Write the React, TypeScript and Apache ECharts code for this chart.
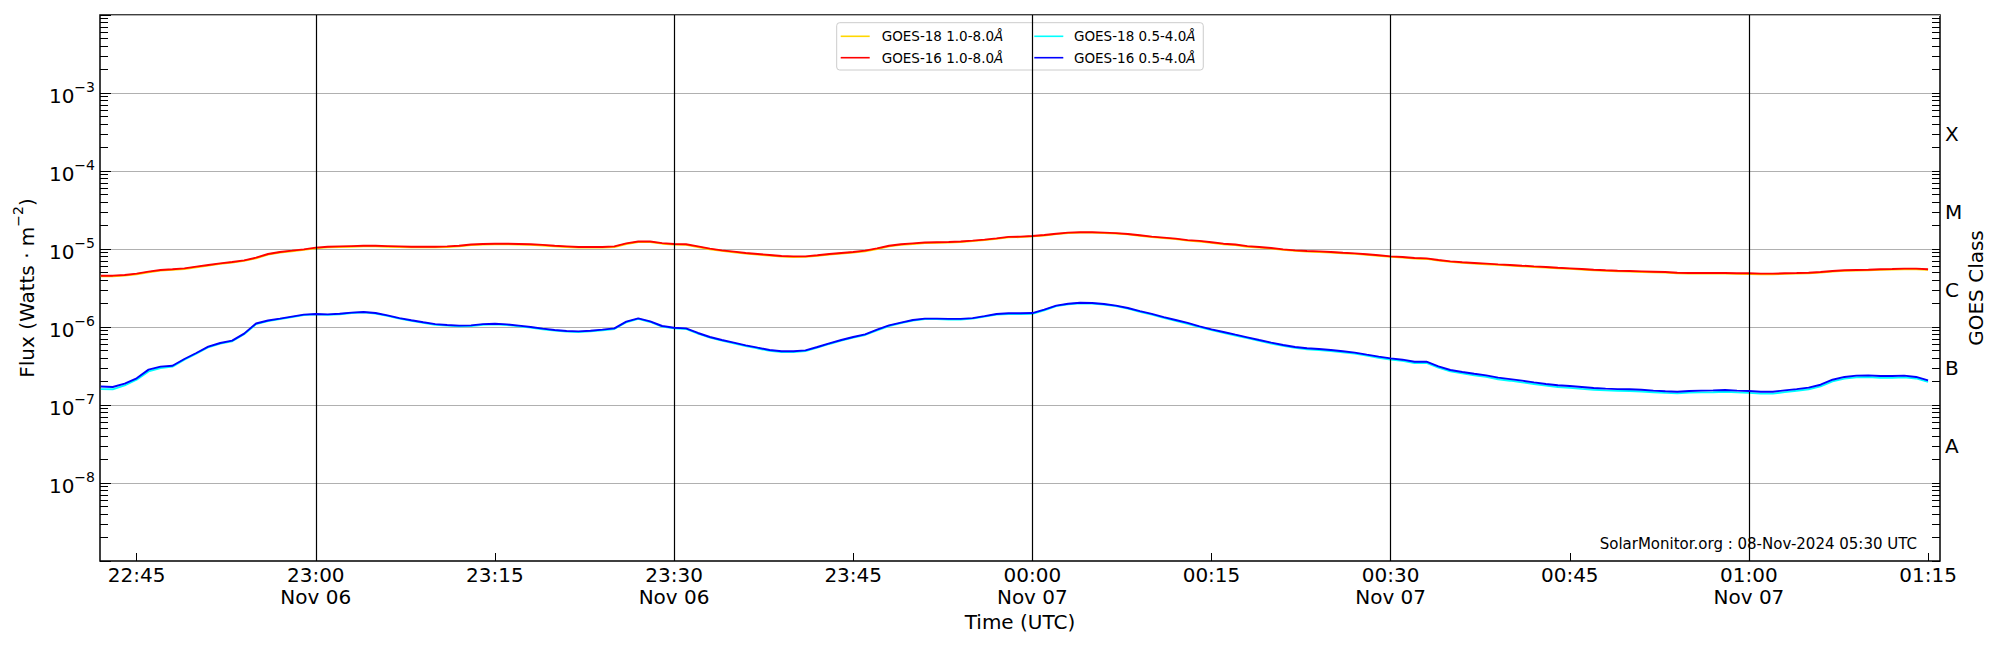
import React, { useEffect, useRef } from "react";
import * as echarts from "echarts";

// 1-minute samples starting at 22:42 UTC on Nov 06 (x = minutes after 22:00 UTC, Nov 06)
const START_MINUTE = 42;

const G18_LONG = [
  4.48e-6, 4.47e-6, 4.56e-6, 4.75e-6, 5.03e-6, 5.29e-6, 5.40e-6, 5.55e-6, 5.84e-6, 6.13e-6,
  6.44e-6, 6.70e-6, 7.04e-6, 7.61e-6, 8.49e-6, 9.01e-6, 9.36e-6, 9.73e-6, 1.02e-5, 1.05e-5,
  1.06e-5, 1.07e-5, 1.08e-5, 1.08e-5, 1.07e-5, 1.06e-5, 1.05e-5, 1.05e-5, 1.05e-5, 1.06e-5,
  1.08e-5, 1.12e-5, 1.14e-5, 1.15e-5, 1.15e-5, 1.14e-5, 1.13e-5, 1.11e-5, 1.08e-5, 1.06e-5,
  1.04e-5, 1.04e-5, 1.04e-5, 1.06e-5, 1.16e-5, 1.23e-5, 1.23e-5, 1.17e-5, 1.14e-5, 1.13e-5,
  1.06e-5, 9.93e-6, 9.45e-6, 9.09e-6, 8.74e-6, 8.48e-6, 8.24e-6, 7.99e-6, 7.91e-6, 7.92e-6,
  8.16e-6, 8.48e-6, 8.74e-6, 9.00e-6, 9.36e-6, 1.00e-5, 1.08e-5, 1.13e-5, 1.16e-5, 1.19e-5,
  1.20e-5, 1.21e-5, 1.23e-5, 1.26e-5, 1.30e-5, 1.35e-5, 1.41e-5, 1.42e-5, 1.45e-5, 1.49e-5,
  1.55e-5, 1.60e-5, 1.62e-5, 1.62e-5, 1.60e-5, 1.58e-5, 1.54e-5, 1.48e-5, 1.42e-5, 1.38e-5,
  1.34e-5, 1.28e-5, 1.25e-5, 1.20e-5, 1.15e-5, 1.12e-5, 1.07e-5, 1.04e-5, 1.01e-5, 9.73e-6,
  9.45e-6, 9.26e-6, 9.17e-6, 9.00e-6, 8.82e-6, 8.65e-6, 8.41e-6, 8.16e-6, 7.92e-6, 7.76e-6,
  7.54e-6, 7.46e-6, 7.11e-6, 6.83e-6, 6.64e-6, 6.51e-6, 6.38e-6, 6.25e-6, 6.14e-6, 6.01e-6,
  5.89e-6, 5.78e-6, 5.66e-6, 5.56e-6, 5.45e-6, 5.34e-6, 5.24e-6, 5.18e-6, 5.13e-6, 5.08e-6,
  5.03e-6, 4.98e-6, 4.89e-6, 4.84e-6, 4.84e-6, 4.83e-6, 4.84e-6, 4.80e-6, 4.79e-6, 4.75e-6,
  4.75e-6, 4.80e-6, 4.84e-6, 4.89e-6, 4.98e-6, 5.13e-6, 5.24e-6, 5.29e-6, 5.34e-6, 5.40e-6,
  5.45e-6, 5.51e-6, 5.50e-6, 5.40e-6,
];

const G16_LONG = [
  4.55e-6, 4.55e-6, 4.64e-6, 4.83e-6, 5.12e-6, 5.38e-6, 5.49e-6, 5.65e-6, 5.94e-6, 6.24e-6,
  6.55e-6, 6.81e-6, 7.16e-6, 7.74e-6, 8.63e-6, 9.16e-6, 9.52e-6, 9.90e-6, 1.04e-5, 1.07e-5,
  1.08e-5, 1.09e-5, 1.10e-5, 1.10e-5, 1.09e-5, 1.08e-5, 1.07e-5, 1.07e-5, 1.07e-5, 1.08e-5,
  1.10e-5, 1.14e-5, 1.16e-5, 1.17e-5, 1.17e-5, 1.16e-5, 1.15e-5, 1.13e-5, 1.10e-5, 1.08e-5,
  1.06e-5, 1.06e-5, 1.06e-5, 1.08e-5, 1.18e-5, 1.25e-5, 1.25e-5, 1.19e-5, 1.16e-5, 1.15e-5,
  1.08e-5, 1.01e-5, 9.61e-6, 9.25e-6, 8.89e-6, 8.63e-6, 8.38e-6, 8.13e-6, 8.05e-6, 8.05e-6,
  8.30e-6, 8.63e-6, 8.89e-6, 9.16e-6, 9.52e-6, 1.02e-5, 1.10e-5, 1.15e-5, 1.18e-5, 1.21e-5,
  1.22e-5, 1.23e-5, 1.25e-5, 1.28e-5, 1.32e-5, 1.37e-5, 1.43e-5, 1.44e-5, 1.47e-5, 1.51e-5,
  1.57e-5, 1.62e-5, 1.64e-5, 1.64e-5, 1.62e-5, 1.60e-5, 1.56e-5, 1.50e-5, 1.44e-5, 1.40e-5,
  1.36e-5, 1.30e-5, 1.27e-5, 1.22e-5, 1.17e-5, 1.14e-5, 1.09e-5, 1.06e-5, 1.03e-5, 9.90e-6,
  9.61e-6, 9.42e-6, 9.33e-6, 9.16e-6, 8.97e-6, 8.80e-6, 8.55e-6, 8.30e-6, 8.05e-6, 7.89e-6,
  7.67e-6, 7.59e-6, 7.23e-6, 6.95e-6, 6.75e-6, 6.62e-6, 6.49e-6, 6.36e-6, 6.24e-6, 6.11e-6,
  5.99e-6, 5.88e-6, 5.76e-6, 5.65e-6, 5.54e-6, 5.43e-6, 5.33e-6, 5.27e-6, 5.22e-6, 5.17e-6,
  5.12e-6, 5.07e-6, 4.97e-6, 4.92e-6, 4.92e-6, 4.92e-6, 4.92e-6, 4.88e-6, 4.88e-6, 4.83e-6,
  4.83e-6, 4.88e-6, 4.92e-6, 4.97e-6, 5.07e-6, 5.22e-6, 5.33e-6, 5.38e-6, 5.43e-6, 5.49e-6,
  5.54e-6, 5.60e-6, 5.60e-6, 5.49e-6,
];

const G18_SHORT = [
  1.60e-7, 1.59e-7, 1.79e-7, 2.11e-7, 2.70e-7, 2.98e-7, 3.10e-7, 3.82e-7, 4.56e-7, 5.50e-7,
  6.13e-7, 6.56e-7, 8.08e-7, 1.09e-6, 1.19e-6, 1.26e-6, 1.34e-6, 1.42e-6, 1.45e-6, 1.43e-6,
  1.46e-6, 1.51e-6, 1.54e-6, 1.49e-6, 1.39e-6, 1.28e-6, 1.20e-6, 1.13e-6, 1.07e-6, 1.04e-6,
  1.02e-6, 1.03e-6, 1.07e-6, 1.08e-6, 1.06e-6, 1.02e-6, 9.82e-7, 9.34e-7, 8.99e-7, 8.72e-7,
  8.64e-7, 8.80e-7, 9.08e-7, 9.44e-7, 1.15e-6, 1.27e-6, 1.16e-6, 1.01e-6, 9.62e-7, 9.43e-7,
  8.22e-7, 7.30e-7, 6.68e-7, 6.17e-7, 5.70e-7, 5.31e-7, 4.96e-7, 4.76e-7, 4.77e-7, 4.91e-7,
  5.43e-7, 6.06e-7, 6.68e-7, 7.30e-7, 7.90e-7, 9.08e-7, 1.03e-6, 1.12e-6, 1.21e-6, 1.26e-6,
  1.26e-6, 1.25e-6, 1.25e-6, 1.28e-6, 1.36e-6, 1.44e-6, 1.47e-6, 1.47e-6, 1.48e-6, 1.64e-6,
  1.85e-6, 1.96e-6, 2.02e-6, 2.00e-6, 1.94e-6, 1.85e-6, 1.72e-6, 1.57e-6, 1.44e-6, 1.31e-6,
  1.20e-6, 1.10e-6, 9.98e-7, 9.13e-7, 8.44e-7, 7.79e-7, 7.20e-7, 6.65e-7, 6.15e-7, 5.74e-7,
  5.40e-7, 5.19e-7, 5.08e-7, 4.93e-7, 4.74e-7, 4.55e-7, 4.29e-7, 4.04e-7, 3.83e-7, 3.68e-7,
  3.46e-7, 3.46e-7, 3.01e-7, 2.70e-7, 2.54e-7, 2.41e-7, 2.29e-7, 2.14e-7, 2.05e-7, 1.95e-7,
  1.86e-7, 1.77e-7, 1.70e-7, 1.66e-7, 1.61e-7, 1.57e-7, 1.54e-7, 1.52e-7, 1.51e-7, 1.49e-7,
  1.46e-7, 1.43e-7, 1.41e-7, 1.44e-7, 1.45e-7, 1.46e-7, 1.48e-7, 1.45e-7, 1.43e-7, 1.40e-7,
  1.40e-7, 1.46e-7, 1.52e-7, 1.59e-7, 1.73e-7, 2.01e-7, 2.18e-7, 2.27e-7, 2.29e-7, 2.24e-7,
  2.24e-7, 2.27e-7, 2.19e-7, 1.98e-7,
];

const G16_SHORT = [
  1.73e-7, 1.70e-7, 1.88e-7, 2.20e-7, 2.84e-7, 3.10e-7, 3.19e-7, 3.89e-7, 4.64e-7, 5.60e-7,
  6.24e-7, 6.68e-7, 8.22e-7, 1.11e-6, 1.21e-6, 1.28e-6, 1.36e-6, 1.44e-6, 1.47e-6, 1.45e-6,
  1.48e-6, 1.53e-6, 1.56e-6, 1.51e-6, 1.41e-6, 1.30e-6, 1.22e-6, 1.15e-6, 1.09e-6, 1.06e-6,
  1.04e-6, 1.05e-6, 1.09e-6, 1.10e-6, 1.08e-6, 1.04e-6, 1.00e-6, 9.52e-7, 9.16e-7, 8.89e-7,
  8.80e-7, 8.97e-7, 9.25e-7, 9.61e-7, 1.17e-6, 1.29e-6, 1.18e-6, 1.03e-6, 9.80e-7, 9.61e-7,
  8.38e-7, 7.44e-7, 6.81e-7, 6.30e-7, 5.82e-7, 5.43e-7, 5.07e-7, 4.88e-7, 4.88e-7, 5.02e-7,
  5.54e-7, 6.18e-7, 6.81e-7, 7.44e-7, 8.05e-7, 9.25e-7, 1.05e-6, 1.14e-6, 1.23e-6, 1.28e-6,
  1.28e-6, 1.27e-6, 1.27e-6, 1.30e-6, 1.38e-6, 1.47e-6, 1.50e-6, 1.50e-6, 1.51e-6, 1.67e-6,
  1.88e-6, 1.99e-6, 2.05e-6, 2.03e-6, 1.97e-6, 1.88e-6, 1.75e-6, 1.60e-6, 1.47e-6, 1.34e-6,
  1.23e-6, 1.13e-6, 1.02e-6, 9.33e-7, 8.63e-7, 7.97e-7, 7.37e-7, 6.81e-7, 6.30e-7, 5.88e-7,
  5.54e-7, 5.33e-7, 5.22e-7, 5.07e-7, 4.88e-7, 4.69e-7, 4.42e-7, 4.17e-7, 3.96e-7, 3.81e-7,
  3.59e-7, 3.59e-7, 3.13e-7, 2.81e-7, 2.65e-7, 2.52e-7, 2.40e-7, 2.24e-7, 2.15e-7, 2.05e-7,
  1.95e-7, 1.86e-7, 1.79e-7, 1.75e-7, 1.70e-7, 1.65e-7, 1.62e-7, 1.60e-7, 1.59e-7, 1.57e-7,
  1.53e-7, 1.50e-7, 1.48e-7, 1.51e-7, 1.53e-7, 1.54e-7, 1.56e-7, 1.53e-7, 1.51e-7, 1.48e-7,
  1.48e-7, 1.54e-7, 1.60e-7, 1.67e-7, 1.82e-7, 2.11e-7, 2.29e-7, 2.38e-7, 2.40e-7, 2.35e-7,
  2.35e-7, 2.38e-7, 2.29e-7, 2.07e-7,
];

const SERIES_NAMES = [
  "GOES-18 1.0-8.0Å",
  "GOES-16 1.0-8.0Å",
  "GOES-18 0.5-4.0Å",
  "GOES-16 0.5-4.0Å",
];
const SERIES_COLORS = ["#FFD700", "#FF0000", "#00FFFF", "#0000FF"];

const X_MIN = 41.933; // 22:41:56
const X_MAX = 196; // 01:16
const X_TICKS = [45, 60, 75, 90, 105, 120, 135, 150, 165, 180, 195];
const X_TICK_LABELS = [
  "22:45", "23:00\nNov 06", "23:15", "23:30\nNov 06", "23:45", "00:00\nNov 07",
  "00:15", "00:30\nNov 07", "00:45", "01:00\nNov 07", "01:15",
];
const DAY_LINES = [60, 90, 120, 150, 180];

const GOES_CLASSES = ["A", "B", "C", "M", "X"];
const GOES_CLASS_DECADES = [-8, -7, -6, -5, -4]; // labels at 3 x 10^n

const FONT = "DejaVu Sans";

export default function App() {
  const ref = useRef<HTMLDivElement>(null);

  useEffect(() => {
    if (!ref.current) return;
    const chart = echarts.init(ref.current, undefined, { renderer: "svg" });

    const allData = [G18_LONG, G16_LONG, G18_SHORT, G16_SHORT];
    const leftMinor: number[] = [];
    for (let n = -9; n <= -3; n++) {
      for (let k = 2; k <= 9; k++) leftMinor.push(n + Math.log10(k));
    }
    const rightLabelPos = GOES_CLASS_DECADES.map((n) => n + Math.log10(3));
    const rightTicks: number[] = [];
    for (let n = -9; n <= -3; n++) {
      for (let k = 1; k <= 9; k++) rightTicks.push(n + Math.log10(k));
    }

    const series: any[] = allData.map((arr, si) => ({
      name: SERIES_NAMES[si],
      type: "line",
      yAxisIndex: 0,
      xAxisIndex: 0,
      symbol: "none",
      showSymbol: false,
      silent: true,
      z: 2 + si,
      lineStyle: { color: SERIES_COLORS[si], width: 1.9 },
      itemStyle: { color: SERIES_COLORS[si] },
      data: arr.map((v, i) => [START_MINUTE + i, v]),
    }));
    series[0].markLine = {
      silent: true,
      symbol: ["none", "none"],
      label: { show: false },
      lineStyle: { color: "#000000", width: 1.2, type: "solid" },
      emphasis: { disabled: true },
      data: DAY_LINES.map((v) => ({ xAxis: v })),
    };

    const legendRich = (padW: number) => ({
      sp: { width: padW, fontSize: 13.5, lineHeight: 16 },
      t: { fontSize: 13.5, fontFamily: FONT, color: "#000", lineHeight: 16 },
      i: { fontSize: 13.5, fontFamily: FONT, color: "#000", lineHeight: 16, fontStyle: "italic" },
    });
    const legendFmt = (name: string) => `{sp| }{t|${name.slice(0, -1)}}{i|Å}`;

    const option: any = {
      animation: false,
      backgroundColor: "#ffffff",
      textStyle: { fontFamily: FONT },
      grid: {
        left: 100,
        right: 60,
        top: 15,
        bottom: 89,
        containLabel: false,
        outerBoundsMode: "none",
        show: true,
        borderColor: "#000000",
        borderWidth: 1.5,
        backgroundColor: "transparent",
      },
      legend: [
        {
          data: [SERIES_NAMES[0], SERIES_NAMES[1]],
          orient: "vertical",
          left: 836.7,
          top: 22.7,
          padding: [6.6, 200, 5.3, 4],
          itemGap: 7.4,
          itemWidth: 29,
          itemHeight: 1.6,
          icon: "rect",
          backgroundColor: "rgba(255,255,255,0.8)",
          borderColor: "#cccccc",
          borderWidth: 1,
          borderRadius: 3,
          selectedMode: false,
          z: 4,
          formatter: legendFmt,
          textStyle: { fontSize: 13.5, fontFamily: FONT, color: "#000", rich: legendRich(7) },
        },
        {
          data: [SERIES_NAMES[2], SERIES_NAMES[3]],
          orient: "vertical",
          left: 1034.3,
          top: 29.3,
          padding: 0,
          itemGap: 7.4,
          itemWidth: 29,
          itemHeight: 1.6,
          icon: "rect",
          selectedMode: false,
          z: 5,
          formatter: legendFmt,
          textStyle: { fontSize: 13.5, fontFamily: FONT, color: "#000", rich: legendRich(5.7) },
        },
      ],
      xAxis: [
        {
          type: "value",
          min: X_MIN,
          max: X_MAX,
          position: "bottom",
          axisLine: { show: false },
          splitLine: { show: false },
          axisTick: {
            show: true,
            inside: true,
            length: 8,
            customValues: X_TICKS,
            lineStyle: { color: "#000", width: 1 },
          },
          axisLabel: {
            customValues: X_TICKS,
            formatter: (v: number) => {
              const idx = X_TICKS.findIndex((t) => Math.abs(t - v) < 0.01);
              return idx >= 0 ? X_TICK_LABELS[idx] : "";
            },
            fontSize: 20,
            lineHeight: 22.5,
            color: "#000",
            fontFamily: FONT,
            margin: 2.5,
          },
          name: "Time (UTC)",
          nameLocation: "middle",
          nameGap: 49,
          nameMoveOverlap: false,
          nameTextStyle: { fontSize: 20, color: "#000", fontFamily: FONT, lineHeight: 24 },
        },
      ],
      yAxis: [
        {
          type: "log",
          logBase: 10,
          min: 1e-9,
          max: 1e-2,
          splitNumber: 7,
          position: "left",
          axisLine: { show: false },
          axisTick: { show: true, inside: true, length: 11, lineStyle: { color: "#000", width: 1 } },
          splitLine: {
            show: true,
            showMinLine: false,
            showMaxLine: false,
            lineStyle: { color: "#b0b0b0", width: 1 },
          },
          axisLabel: {
            margin: 5,
            inside: false,
            formatter: (v: number) => {
              const e = Math.round(Math.log10(v));
              if (e <= -9 || e >= -2) return "";
              return `{b|10}{s|−${-e}}`;
            },
            rich: {
              b: { fontSize: 20, fontFamily: FONT, color: "#000", lineHeight: 26, verticalAlign: "bottom" },
              s: { fontSize: 14, fontFamily: FONT, color: "#000", lineHeight: 14, verticalAlign: "top" },
            },
          },
          name: "{n|Flux (Watts · m}{s|−2}{n|)}",
          nameLocation: "middle",
          nameGap: 63,
          nameMoveOverlap: false,
          nameTextStyle: {
            rich: {
              n: { fontSize: 20, fontFamily: FONT, color: "#000", lineHeight: 26, verticalAlign: "bottom" },
              s: { fontSize: 14, fontFamily: FONT, color: "#000", lineHeight: 14, verticalAlign: "top" },
            },
          },
        },
        {
          type: "value",
          min: -9,
          max: -2,
          position: "left",
          axisLine: { show: false },
          splitLine: { show: false },
          axisLabel: { show: false },
          axisTick: {
            show: true,
            inside: true,
            length: 8,
            customValues: leftMinor,
            lineStyle: { color: "#000", width: 1 },
          },
        },
        {
          type: "value",
          min: -9,
          max: -2,
          position: "right",
          axisLine: { show: false },
          splitLine: { show: false },
          axisTick: {
            show: true,
            inside: true,
            length: 8,
            customValues: rightTicks,
            lineStyle: { color: "#000", width: 1 },
          },
          axisLabel: {
            customValues: rightLabelPos,
            inside: false,
            align: "left",
            margin: 5,
            fontSize: 20,
            color: "#000",
            fontFamily: FONT,
            formatter: (v: number) => {
              const idx = rightLabelPos.findIndex((t) => Math.abs(t - v) < 0.01);
              return idx >= 0 ? GOES_CLASSES[idx] : "";
            },
          },
          name: "GOES Class",
          nameLocation: "middle",
          nameGap: 24,
          nameMoveOverlap: false,
          nameTextStyle: { fontSize: 20, color: "#000", fontFamily: FONT, lineHeight: 24 },
        },
      ],
      graphic: [
        {
          type: "text",
          x: 1917,
          y: 543.5,
          z: 10,
          silent: true,
          style: {
            text: "SolarMonitor.org : 08-Nov-2024 05:30 UTC",
            fontSize: 15,
            fontFamily: FONT,
            fill: "#000",
            align: "right",
            textAlign: "right",
            verticalAlign: "middle",
            textVerticalAlign: "middle",
          },
        },
      ],
      series,
    };

    chart.setOption(option);
    return () => {
      chart.dispose();
    };
  }, []);

  return (
    <div
      ref={ref}
      style={{ position: "fixed", left: 0, top: 0, width: 2000, height: 650, background: "#fff" }}
    />
  );
}
